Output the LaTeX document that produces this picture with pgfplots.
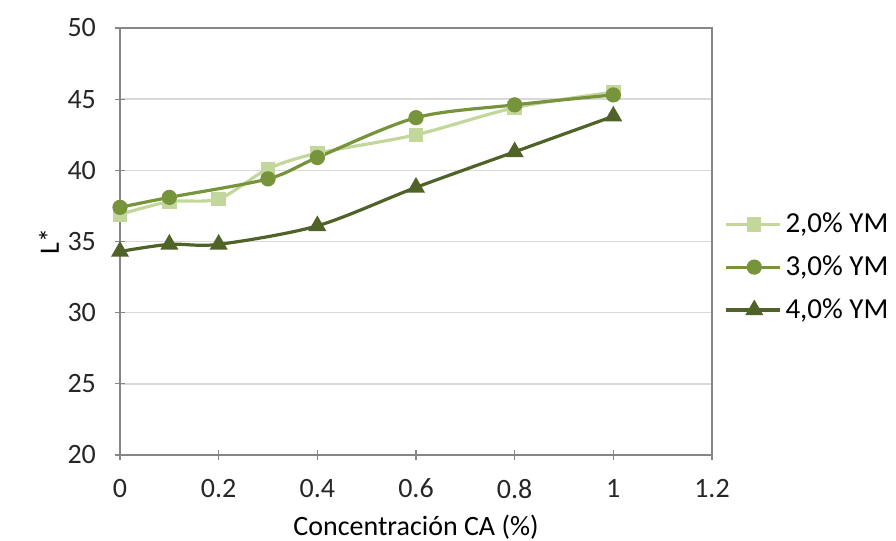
\documentclass[border=0pt]{standalone}
\usepackage{pgfplots}
\pgfplotsset{compat=1.18}
\usepackage{fontspec}
\setmainfont{Carlito}
\definecolor{c2}{HTML}{C3D69B}
\definecolor{c3}{HTML}{77933C}
\definecolor{c4}{HTML}{4F6228}
\definecolor{gridc}{HTML}{D9D9D9}
\definecolor{axc}{HTML}{868686}
\begin{document}
\begin{tikzpicture}[font=\fontsize{14}{16}\selectfont]
\useasboundingbox (0,0) rectangle (448pt,270.5pt);
\begin{axis}[
  at={(60pt,43pt)}, anchor=south west,
  scale only axis, width=296pt, height=213.5pt,
  xmin=0, xmax=1.2, ymin=20, ymax=50,
  xtick={0,0.2,0.4,0.6,0.8,1,1.2},
  ytick={20,25,30,35,40,45,50},
  xtick pos=bottom, ytick pos=left,
  tick align=center, major tick length=5pt,
  tick style={axc, line width=0.6pt},
  axis line style={axc, line width=0.6pt},
  ymajorgrids, grid style={gridc, line width=0.8pt},
  /pgf/number format/assume math mode=true,
  tick label style={font=\fontsize{14}{16}\selectfont, text=black!85},
  xticklabel style={/pgf/number format/fixed, /pgf/number format/precision=1, yshift=-6pt},
  yticklabel style={xshift=-6pt},
  xlabel={Concentración CA (\%)},
  ylabel={L*},
  xlabel style={at={(axis description cs:0.5,-0.169)}, anchor=center, font=\fontsize{14}{16}\selectfont},
  ylabel style={at={(axis description cs:-0.12,0.5)}, anchor=center, rotate=0, font=\fontsize{14}{16}\selectfont},
  legend style={at={(1.02,0.44)}, anchor=west, draw=none, fill=none,
    font=\fontsize{14.5}{16}\selectfont, row sep=6pt, inner sep=0pt},
  legend cell align=left,
  legend image code/.code={
    \draw[mark repeat=2, mark phase=2, #1] plot coordinates {(0cm,0cm) (0.5cm,0cm) (0.95cm,0cm)};
  },
  every axis plot/.append style={line width=1.6pt, smooth},
]
\addplot[c2, mark=square*, mark size=2.8pt, mark options={fill=c2}] coordinates {
 (0,36.9) (0.1,37.8) (0.2,38.0) (0.3,40.1) (0.4,41.2) (0.6,42.5) (0.8,44.4) (1,45.5)};
\addlegendentry{2,0\% YM}
\addplot[c3, mark=*, mark size=3pt, mark options={fill=c3}] coordinates {
 (0,37.4) (0.1,38.1) (0.3,39.4) (0.4,40.9) (0.6,43.7) (0.8,44.6) (1,45.3)};
\addlegendentry{3,0\% YM}
\addplot[c4, mark=triangle*, mark size=3.6pt, mark options={fill=c4}] coordinates {
 (0,34.3) (0.1,34.8) (0.2,34.8) (0.4,36.1) (0.6,38.8) (0.8,41.3) (1,43.8)};
\addlegendentry{4,0\% YM}
\end{axis}
\end{tikzpicture}
\end{document}
